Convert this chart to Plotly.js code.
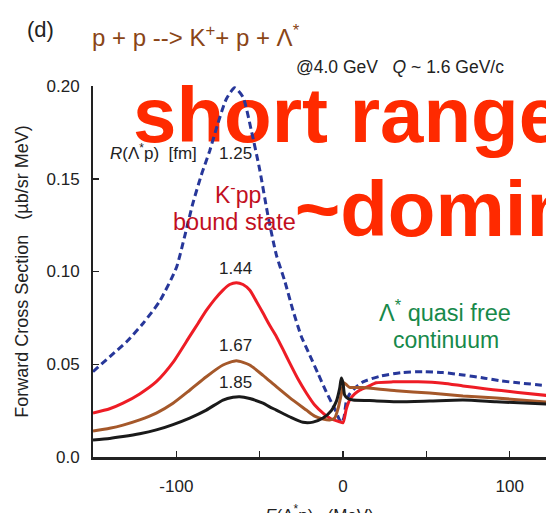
<!DOCTYPE html>
<html>
<head>
<meta charset="utf-8">
<script src="https://cdn.plot.ly/plotly-3.0.1.min.js"></script>
<style>
  html, body { margin: 0; padding: 0; background: #fff; overflow: hidden; }
  #wrap { width: 546px; height: 513px; overflow: hidden; }
  #chart { width: 546px; height: 540px; }
</style>
</head>
<body>
<div id="wrap"><div id="chart"></div></div>
<script>
// Forward cross section vs E(Λ*p) for several Λ*p ranges R (fm)
const rLabels = ['1.25', '1.44', '1.67', '1.85'];

const xR125 = [-150,-140,-130,-120,-110,-100,-95,-90,-85,-80,-75,-70,-65,-60,-55,-50,-45,-40,-35,-30,-25,-20,-15,-10,-5,-1,0.5,2,4,7,12,22,35,48,60,72,85,95,105,122];
const yR125 = [0.046,0.054,0.062,0.072,0.084,0.102,0.119,0.137,0.152,0.165,0.180,0.193,0.199,0.194,0.176,0.155,0.130,0.109,0.095,0.079,0.065,0.055,0.045,0.035,0.026,0.0185,0.021,0.030,0.034,0.037,0.0405,0.0435,0.0455,0.046,0.0455,0.0442,0.0425,0.041,0.040,0.0385];

const xR144 = [-150,-140,-132,-122,-112,-102,-92,-87,-82,-77,-72,-68,-64,-60,-56,-52,-48,-44,-40,-36,-32,-27,-22,-17,-12,-7,-2,0,2,4,7,10,15,20,30,45,60,72,85,95,105,122];
const yR144 = [0.0237,0.026,0.029,0.034,0.0406,0.051,0.065,0.072,0.079,0.085,0.090,0.093,0.094,0.093,0.090,0.084,0.0776,0.071,0.065,0.058,0.0507,0.042,0.0345,0.028,0.0237,0.0205,0.019,0.0185,0.026,0.0307,0.034,0.036,0.038,0.040,0.0405,0.0405,0.0398,0.0383,0.0368,0.0358,0.0348,0.0332];

const xR167 = [-150,-140,-132,-122,-112,-102,-92,-82,-72,-64,-56,-48,-40,-32,-22,-17,-12,-8,-5,-3,-1,0.5,2,4,8,12,32,52,72,92,122];
const yR167 = [0.014,0.0155,0.0172,0.020,0.0237,0.029,0.036,0.0433,0.0496,0.0519,0.0496,0.044,0.0379,0.032,0.0253,0.022,0.0205,0.020,0.021,0.026,0.034,0.040,0.039,0.0375,0.0375,0.0374,0.0357,0.0345,0.0329,0.0318,0.0296];

const xR185 = [-150,-140,-132,-122,-112,-102,-92,-82,-72,-66,-62,-56,-48,-44,-40,-32,-24,-18,-12,-7,-4,-2,-1,0,1,3,6,16,32,52,72,92,122];
const yR185 = [0.0092,0.010,0.011,0.0125,0.0146,0.0175,0.021,0.0253,0.0307,0.0322,0.0325,0.0315,0.029,0.027,0.0253,0.0217,0.0187,0.0188,0.021,0.025,0.030,0.037,0.0426,0.040,0.0334,0.0315,0.0307,0.0304,0.0298,0.0302,0.0307,0.0298,0.0285];

const xTickVals = [-150, -100, -50, 0, 50, 100];
const xTickText = ['', '-100', '', '0', '', '100'];
const yTickVals = [0, 0.05, 0.10, 0.15, 0.20];
const yTickText = ['0.0', '0.05', '0.10', '0.15', '0.20'];

const FONT = 'Liberation Sans, Arial, sans-serif';
const BROWN = '#8a4516';
const DARKRED = '#c20f1e';
const GREEN = '#17894a';
const HEADLINE = '#ff2a00';

// plot area in pixels: left 93, right 546, top 86, bottom 457
const PL = 93, PW = 453, PT = 86, PH = 371;
const MEV_PER_PX = 0.6;
const px = x => (x - PL) / PW;
const py = y => (PT + PH - y) / PH;

function label(text, x, y, size, color) {
  return {
    text: text, xref: 'paper', yref: 'paper', x: px(x), y: py(y),
    xanchor: 'left', yanchor: 'middle', showarrow: false,
    font: { family: FONT, size: size, color: color || '#222' }
  };
}

const traces = [
  {
    // headline drawn beneath the curves
    x: [-126, -29], y: [0.1801, 0.1294],
    mode: 'text', text: ['short range', '~dominant'],
    textposition: 'middle right',
    textfont: { family: FONT, size: 78, color: HEADLINE, weight: 700 },
    cliponaxis: false, hoverinfo: 'skip', showlegend: false
  },
  { x: xR125, y: yR125, name: rLabels[0], mode: 'lines',
    line: { color: '#27379a', width: 3, dash: '7px,4px', shape: 'spline', smoothing: 0.6 } },
  { x: xR144, y: yR144, name: rLabels[1], mode: 'lines',
    line: { color: '#ee1c25', width: 3, shape: 'spline', smoothing: 0.6 } },
  { x: xR167, y: yR167, name: rLabels[2], mode: 'lines',
    line: { color: '#a5582a', width: 3, shape: 'spline', smoothing: 0.6 } },
  { x: xR185, y: yR185, name: rLabels[3], mode: 'lines',
    line: { color: '#1a1a1a', width: 3, shape: 'spline', smoothing: 0.6 } }
];

const layout = {
  width: 546, height: 540,
  margin: { l: PL, r: 0, t: PT, b: 540 - PT - PH },
  paper_bgcolor: '#fff', plot_bgcolor: '#fff',
  showlegend: false,
  font: { family: FONT, size: 17, color: '#222' },
  xaxis: {
    range: [-150, -150 + PW * MEV_PER_PX],
    tickvals: xTickVals, ticktext: xTickText,
    ticks: 'inside', ticklen: 6, tickwidth: 1.5, tickcolor: '#222',
    showline: true, linewidth: 2.5, linecolor: '#222',
    showgrid: false, zeroline: false,
    ticklabelstandoff: 12,
    tickfont: { size: 17 },
    title: { text: '<i>E</i>(Λ<sup>*</sup>p)\u00a0\u00a0\u00a0(MeV)', font: { size: 17 }, standoff: 14 }
  },
  yaxis: {
    range: [0, 0.20],
    tickvals: yTickVals, ticktext: yTickText,
    ticks: 'inside', ticklen: 6, tickwidth: 1.5, tickcolor: '#222',
    showline: true, linewidth: 2, linecolor: '#222',
    showgrid: false, zeroline: false,
    ticklabelstandoff: 8,
    tickfont: { size: 17 },
    title: { text: 'Forward Cross Section\u00a0\u00a0\u00a0(µb/sr MeV)', font: { size: 18 }, standoff: 13 }
  },
  annotations: [
    label('(d)', 25, 29, 22, '#222'),
    label('p + p --> K<sup>+</sup>+ p + Λ<sup>*</sup>', 90, 36, 24, BROWN),
    label('@4.0 GeV\u00a0\u00a0\u00a0<i>Q</i> ~ 1.6 GeV/c', 294, 67, 17.5, '#222'),
    label('<i>R</i>(Λ<sup>*</sup>p)\u00a0\u00a0[fm]', 108, 152, 17, '#222'),
    label(rLabels[0], 217, 153, 17, '#222'),
    label(rLabels[1], 217, 268, 17, '#222'),
    label(rLabels[2], 217, 345, 17, '#222'),
    label(rLabels[3], 217, 382, 17, '#222'),
    label('K<sup>-</sup>pp', 213, 193, 23, DARKRED),
    label('bound state', 171, 222, 23.5, DARKRED),
    label('Λ<sup>*</sup> quasi free', 377, 311, 23.5, GREEN),
    label('continuum', 391, 340, 23, GREEN)
  ]
};

Plotly.newPlot('chart', traces, layout, { staticPlot: true, displayModeBar: false });
</script>
</body>
</html>
